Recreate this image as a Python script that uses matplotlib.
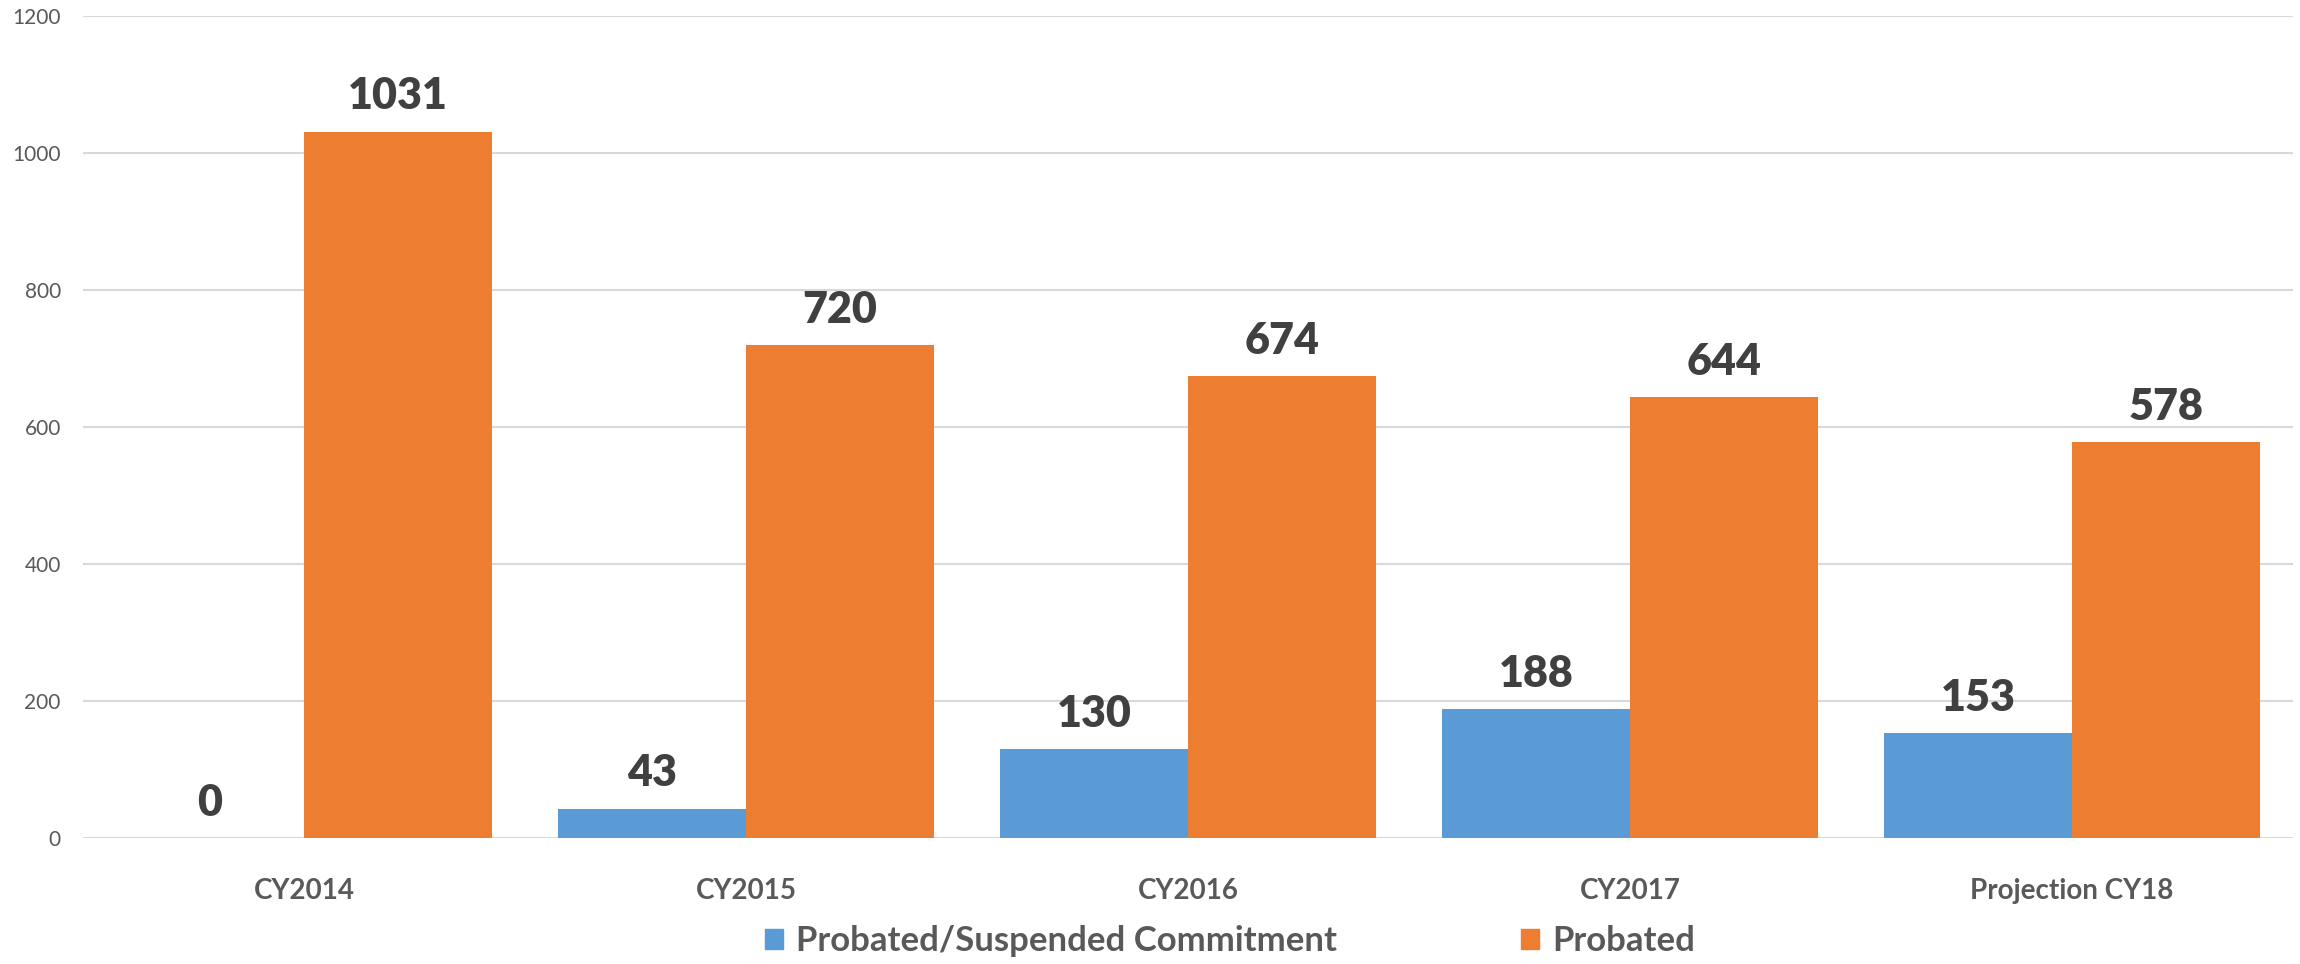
import matplotlib
matplotlib.use("Agg")
import matplotlib.pyplot as plt
from matplotlib.patches import Patch
import numpy as np

categories = ["CY2014", "CY2015", "CY2016", "CY2017", "Projection CY18"]
suspended = [0, 43, 130, 188, 153]
probated = [1031, 720, 674, 644, 578]
series_names = ["Probated/Suspended Commitment", "Probated"]
yticks = [0, 200, 400, 600, 800, 1000, 1200]

BLUE = "#5B9BD5"
ORANGE = "#ED7D31"
plt.rcParams['font.family'] = ['Lato', 'DejaVu Sans']

fig = plt.figure(figsize=(23, 9.64), dpi=100)
ax = fig.add_axes([83/2300, 1-838/964, (2293-83)/2300, (838-16)/964])

x = np.arange(len(categories))
w = 0.425
b1 = ax.bar(x - w/2, suspended, w, color=BLUE)
b2 = ax.bar(x + w/2, probated, w, color=ORANGE)

for bars, vals in ((b1, suspended), (b2, probated)):
    for rect, v in zip(bars, vals):
        ax.annotate(str(v), (rect.get_x() + rect.get_width()/2, v),
                    xytext=(0, 11), textcoords="offset points",
                    ha="center", va="bottom", fontsize=31, fontweight="heavy",
                    color="#404040")

ax.set_xlim(-0.5, len(categories) - 0.5)
ax.set_ylim(0, 1200)
ax.set_yticks(yticks)
ax.set_xticks(x)
ax.set_xticklabels(categories, fontsize=20, fontweight="bold", color="#595959")
ax.tick_params(axis="y", length=0, pad=16, labelsize=15, labelcolor="#595959")
ax.tick_params(axis="x", length=0, pad=29)
ax.grid(axis="y", color="#D9D9D9", linewidth=1.5)
ax.set_axisbelow(True)
for s in ax.spines.values():
    s.set_visible(False)

handles = [Patch(color=BLUE), Patch(color=ORANGE)]
fig.legend(handles, series_names, loc="center", bbox_to_anchor=(1230/2300, 1-941/964),
           ncol=2, frameon=False, handlelength=0.52, handleheight=0.52,
           handletextpad=0.37, columnspacing=5.3, labelcolor="#595959",
           prop={'weight': 'bold', 'size': 25})

fig.savefig("out.png", dpi=100)
